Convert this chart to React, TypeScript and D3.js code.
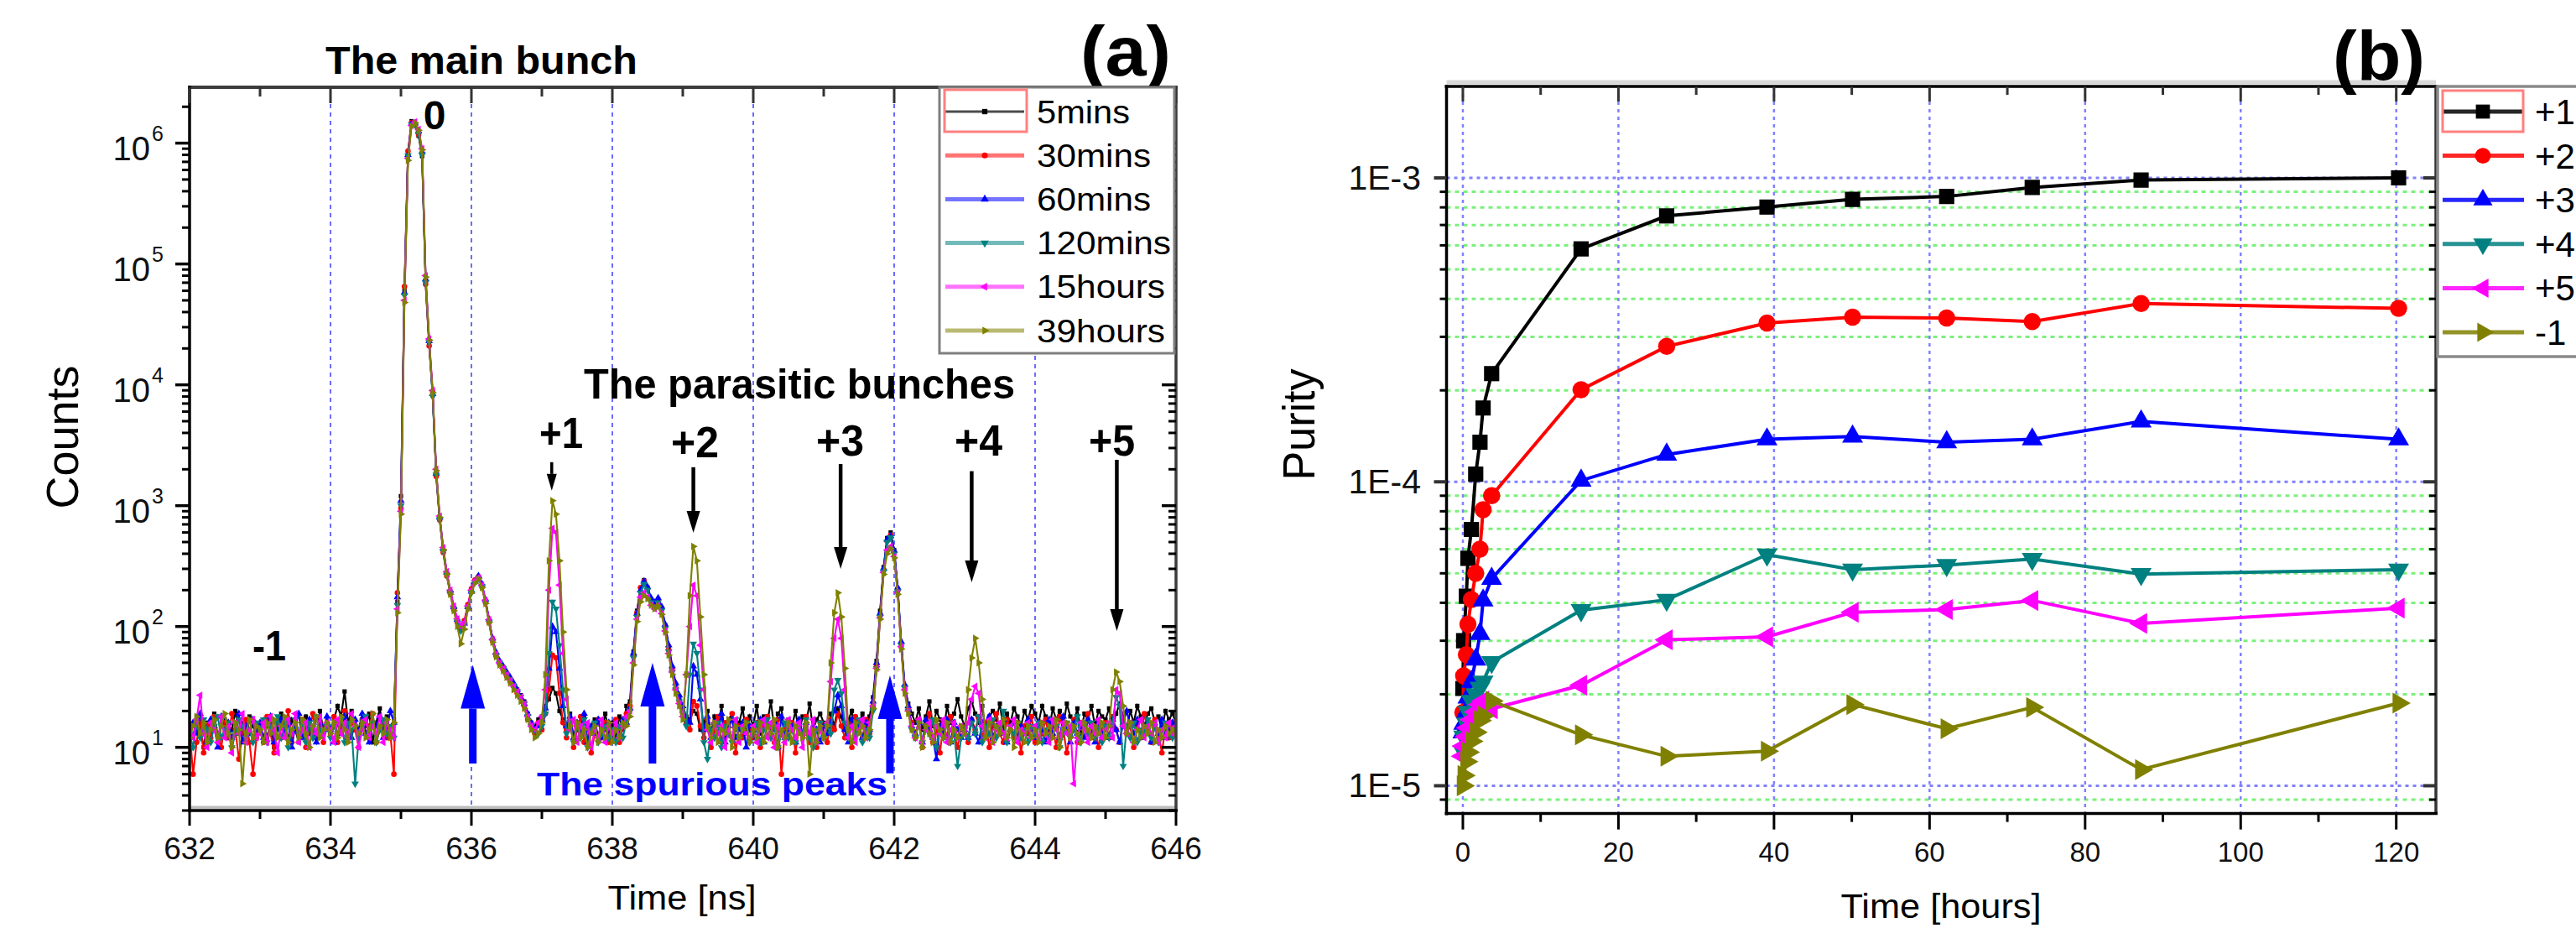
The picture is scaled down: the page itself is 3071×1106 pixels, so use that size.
import React from 'react';
import * as d3 from 'd3';

const W = 3071;
const H = 1106;
const FONT = '"Liberation Sans", Arial, Helvetica, sans-serif';

// ---------------- Panel (a): counts vs time of flight ----------------
const countsStartNs = 632;
const countsStepNs = 0.05;

const counts5mins = [
  15,12,18,14,10,16,13,19,11,15,17,12,14,20,13,16,11,18,15,13,
  14,17,12,16,10,15,19,13,12,17,14,11,16,18,13,15,12,20,14,16,
  13,17,22,18,29,16,20,14,12,17,15,19,11,16,21,14,18,13,17,160,
  1200,60000,820000,1520000,1400000,1150000,780000,72000,22000,8200,1900,780,430,275,195,142,112,97,108,148,
  198,238,252,218,162,112,78,60,51,46,41,37,33,30,27,24,19,16,15,17,
  18,22,25,31,28,20,17,14,19,12,16,13,18,11,15,17,12,14,19,13,
  16,12,18,14,22,24,62,135,205,242,210,168,152,168,142,102,68,46,33,26,
  21,18,17,20,19,14,16,20,13,18,15,22,12,17,19,14,16,21,13,18,
  15,22,13,18,16,24,14,19,21,12,17,15,20,13,18,16,23,14,17,19,
  16,13,19,15,21,18,14,17,20,12,16,19,14,18,26,52,135,310,540,600,
  430,205,72,32,23,19,16,21,14,18,24,15,20,17,13,22,16,19,25,18,
  15,21,24,19,16,22,13,18,20,17,23,14,19,16,21,18,15,20,17,22,
  19,16,22,18,14,21,17,20,15,23,18,16,21,13,19,17,22,15,20,18,
  17,21,15,19,23,18,14,20,16,22,18,15,19,21,16,18,14,20,17,19,
  16,
];
const counts30mins = [
  14,6,11,17,9,15,12,18,13,10,16,12,19,14,8,13,17,11,6,12,
  15,11,18,13,9,16,12,14,20,11,15,13,17,10,14,19,12,16,11,15,
  13,18,11,15,20,12,16,14,10,17,13,15,19,11,14,16,12,13,6,190,
  950,65000,860000,1480000,1430000,1180000,820000,68000,21000,8800,1750,760,410,262,188,138,108,93,112,152,
  205,242,258,212,158,108,76,57,49,44,39,35,32,28,26,22,17,15,13,16,
  14,19,30,58,55,28,16,12,17,10,14,18,11,15,9,13,17,12,16,11,
  13,17,11,15,19,22,58,130,210,238,205,160,148,160,138,98,64,44,31,24,
  19,16,14,24,22,15,12,17,10,14,18,11,16,13,19,9,15,12,17,14,
  12,16,10,15,18,13,11,17,6,14,12,16,9,15,13,18,11,14,10,16,
  13,11,17,14,19,15,12,16,10,18,14,12,17,13,22,48,125,295,510,570,
  410,198,68,30,21,16,12,17,10,15,19,11,14,9,16,12,18,13,10,15,
  13,11,17,14,18,12,16,10,15,19,13,11,17,14,12,16,9,15,13,18,
  11,16,13,17,12,15,10,18,14,9,13,17,11,16,14,19,12,15,10,14,
  16,12,18,14,11,17,13,15,10,16,12,19,14,11,17,13,9,15,12,16,
  14,
];
const counts60mins = [
  12,16,13,19,14,11,17,15,10,18,13,16,12,14,19,11,15,13,17,14,
  16,12,15,18,11,14,17,13,16,10,15,19,12,14,17,13,11,16,14,18,
  14,11,16,13,18,15,12,17,14,19,13,11,16,15,18,12,14,20,16,175,
  1100,58000,800000,1450000,1460000,1250000,850000,75000,23000,8400,1850,800,440,280,198,145,114,98,106,145,
  195,235,262,224,166,115,80,61,52,47,42,38,34,30,26,23,19,16,14,15,
  17,21,45,100,90,45,22,15,18,12,16,14,19,11,15,13,17,12,14,16,
  12,15,13,17,16,21,60,128,200,236,212,172,158,172,146,104,70,47,34,27,
  22,17,16,47,40,25,14,18,12,16,13,19,11,15,17,12,14,16,10,15,
  14,12,17,11,15,13,16,10,18,12,14,15,11,17,13,16,12,15,14,11,
  15,13,16,20,27,22,14,11,17,13,15,12,16,14,24,50,128,300,525,560,
  425,210,75,33,22,15,13,16,11,17,14,12,8,15,13,17,11,16,14,12,
  14,12,17,13,11,16,14,18,12,15,13,17,11,14,16,12,15,13,17,14,
  12,16,14,11,17,13,15,12,18,14,11,16,13,15,12,17,14,11,16,13,
  15,12,17,14,11,16,20,15,13,17,12,14,16,11,15,13,17,12,14,16,
  13,
];
const counts120mins = [
  13,10,16,12,17,14,11,15,18,12,14,16,10,13,17,15,12,14,11,16,
  14,17,11,15,13,18,12,16,10,14,17,13,15,11,16,12,18,14,13,15,
  12,15,13,17,11,16,14,5,12,15,18,13,16,11,14,17,13,15,12,150,
  1000,55000,790000,1420000,1420000,1200000,800000,70000,22500,8000,1800,770,420,268,190,140,110,92,104,142,
  190,232,250,215,160,110,76,58,50,45,40,36,32,29,26,23,18,15,14,13,
  15,19,60,160,140,70,30,13,16,11,15,12,17,10,14,16,11,13,15,12,
  14,11,15,12,17,20,55,120,190,225,200,158,145,158,135,96,62,42,30,24,
  19,15,40,72,60,30,11,8,14,12,16,10,15,13,11,17,12,14,16,11,
  13,16,11,14,17,12,15,10,13,16,12,14,11,15,13,17,12,10,14,16,
  12,15,13,30,36,28,16,12,15,13,17,11,14,12,20,45,120,285,500,545,
  400,195,70,31,20,14,12,16,11,15,13,17,10,14,12,16,11,13,7,12,
  14,12,16,13,18,11,15,13,17,12,14,20,11,15,13,16,12,14,11,15,
  13,16,11,14,12,17,15,10,13,16,12,14,18,11,15,13,16,12,14,11,
  15,12,16,26,22,7,15,12,16,11,14,13,17,12,15,11,14,16,13,12,
  14,
];
const counts15hours = [
  15,12,17,27,13,10,16,14,11,18,12,15,9,16,13,19,11,14,17,12,
  13,16,11,18,14,9,15,12,17,13,19,11,14,16,10,15,13,18,12,16,
  14,11,17,13,16,12,19,15,10,14,17,12,15,13,18,11,16,14,12,140,
  900,50000,750000,1400000,1500000,1300000,900000,80000,24000,9000,2000,820,450,285,200,148,116,100,108,148,
  200,240,255,220,165,114,78,59,50,45,40,36,32,29,26,23,18,15,14,16,
  18,30,200,650,600,220,60,25,14,17,11,15,13,16,10,14,12,17,11,15,
  13,16,12,15,18,20,50,115,175,190,175,150,140,150,128,92,60,42,30,23,
  18,40,100,220,180,70,30,14,11,16,13,15,10,14,12,17,11,15,13,12,
  15,11,14,17,12,16,10,15,13,11,17,14,12,16,10,15,13,17,11,14,
  13,16,35,80,115,80,30,12,15,11,14,17,12,16,22,45,118,280,430,460,
  380,190,68,30,20,15,12,17,11,14,16,12,15,13,17,11,14,16,12,15,
  13,16,25,32,28,15,12,17,11,14,16,13,12,15,17,11,14,13,16,12,
  15,12,16,13,11,17,14,12,16,13,15,5,12,16,14,11,15,13,17,12,
  14,16,12,30,28,15,13,16,11,14,17,12,15,13,16,11,14,12,16,13,
  15,
];
const counts39hours = [
  12,15,18,13,16,11,14,17,12,15,19,13,10,16,14,5,13,17,12,15,
  14,11,16,13,17,12,15,18,11,14,16,12,17,13,10,15,18,12,14,16,
  13,16,12,18,14,11,17,15,13,16,12,14,19,11,15,13,17,12,16,130,
  850,48000,720000,1380000,1470000,1280000,880000,78000,23500,8600,1950,800,430,270,185,135,100,72,95,138,
  190,228,248,210,155,108,74,56,48,43,38,34,30,27,24,21,17,14,12,13,
  16,40,350,1100,850,350,90,30,15,11,16,12,14,10,13,15,11,14,12,16,
  11,14,12,16,15,18,48,110,160,180,170,150,140,148,126,90,58,40,28,22,
  17,40,180,460,350,120,40,15,12,16,11,14,13,17,10,15,12,14,16,11,
  14,12,16,11,15,13,17,10,14,12,16,11,15,13,12,16,6,14,11,15,
  12,15,50,130,190,120,45,14,11,16,13,15,12,14,21,44,115,270,400,440,
  370,185,65,28,19,14,12,16,10,15,13,11,17,14,12,16,11,14,12,15,
  13,30,55,80,50,25,12,16,11,15,13,17,12,14,10,16,13,11,15,12,
  14,11,16,13,15,12,17,10,14,16,12,15,13,11,16,14,12,15,13,16,
  12,15,30,42,35,22,13,16,11,14,12,15,13,16,11,14,12,15,13,14,
  13,
];

const seriesNamesA = ['5mins', '30mins', '60mins', '120mins', '15hours', '39hours'];
const xTicksA = [632, 634, 636, 638, 640, 642, 644, 646];
const xMinorTicksA = [633, 635, 637, 639, 641, 643, 645];
const yExponentsA = [1, 2, 3, 4, 5, 6];

// annotations of panel (a), in data units (ns, counts)
const bunchArrows = [
  { t: 637.14, from: 2290, to: 1330, small: true },
  { t: 639.15, from: 2080, to: 597, small: false },
  { t: 641.24, from: 2210, to: 300, small: false },
  { t: 643.10, from: 1930, to: 232, small: false },
  { t: 645.16, from: 2400, to: 92, small: false },
];
const spuriousArrows = [
  { t: 636.02, from: 7.35, to: 48 },
  { t: 638.57, from: 7.35, to: 50 },
  { t: 641.94, from: 6.1, to: 39.4 },
];

// ---------------- Panel (b): purity vs time ----------------
const purityHours = [0, 0.1, 0.45, 0.65, 1.1, 1.65, 2.2, 2.6, 3.7, 15.2, 26.2, 39.1, 50.1, 62.2, 73.2, 87.2, 120.3];
const purityPlus1 = [2.09e-5, 3.0e-5, 4.2e-5, 5.6e-5, 6.97e-5, 1.06e-4, 1.35e-4, 1.75e-4, 2.27e-4, 5.84e-4, 7.5e-4, 8.02e-4, 8.5e-4, 8.69e-4, 9.3e-4, 9.84e-4, 1.0e-3];
const purityPlus2 = [1.74e-5, 2.3e-5, 2.7e-5, 3.4e-5, 4.1e-5, 5.0e-5, 6.0e-5, 8.1e-5, 9.0e-5, 2.01e-4, 2.79e-4, 3.33e-4, 3.48e-4, 3.46e-4, 3.37e-4, 3.86e-4, 3.72e-4];
const purityPlus3 = [1.5e-5, 1.6e-5, 1.75e-5, 1.95e-5, 2.2e-5, 2.6e-5, 3.16e-5, 4.07e-5, 4.8e-5, 1.01e-4, 1.23e-4, 1.38e-4, 1.41e-4, 1.35e-4, 1.38e-4, 1.58e-4, 1.38e-4];
const purityPlus4 = [1.3e-5, 1.45e-5, 1.6e-5, 1.75e-5, 1.9e-5, 2.0e-5, 2.1e-5, 2.2e-5, 2.55e-5, 3.78e-5, 4.09e-5, 5.76e-5, 5.14e-5, 5.32e-5, 5.57e-5, 4.97e-5, 5.14e-5];
const purityPlus5 = [1.25e-5, 1.35e-5, 1.45e-5, 1.55e-5, 1.65e-5, 1.75e-5, 1.85e-5, 1.9e-5, 1.79e-5, 2.14e-5, 3.02e-5, 3.09e-5, 3.72e-5, 3.8e-5, 4.07e-5, 3.42e-5, 3.84e-5];
const purityMinus1 = [1.0e-5, 1.08e-5, 1.2e-5, 1.29e-5, 1.4e-5, 1.5e-5, 1.64e-5, 1.7e-5, 1.9e-5, 1.47e-5, 1.25e-5, 1.3e-5, 1.85e-5, 1.54e-5, 1.81e-5, 1.13e-5, 1.87e-5];
const seriesNamesB = ['+1', '+2', '+3', '+4', '+5', '-1'];
const xTicksB = [0, 20, 40, 60, 80, 100, 120];
const xMinorTicksB = [10, 30, 50, 70, 90, 110];
const yMajorB = [1e-5, 1e-4, 1e-3];
const yLabelsB = ['1E-5', '1E-4', '1E-3'];

const seriesColors = ['#000000', '#ff0000', '#0000ff', '#008080', '#ff00ff', '#808000'];
const markerShapes = ['square', 'circle', 'triUp', 'triDown', 'triLeft', 'triRight'];

// ---------------- helpers ----------------
const shapeRot: Record<string, number> = { square: 0, circle: 0, triUp: 0, triDown: 180, triLeft: -90, triRight: 90 };
function symbolPath(shape: string, size: number): string {
  const type = shape === 'square' ? d3.symbolSquare : shape === 'circle' ? d3.symbolCircle : d3.symbolTriangle;
  return d3.symbol().type(type).size(size)() as string;
}

function Txt(props: any) {
  const { x, y, size, text, anchor = 'start', weight = 'normal', fill = '#000', len, rotate = 0 } = props;
  const extra: any = {};
  if (len) { extra.textLength = len; extra.lengthAdjust = 'spacingAndGlyphs'; }
  return (
    <text transform={`translate(${x},${y}) rotate(${rotate})`} fontSize={size} fontFamily={FONT}
      fontWeight={weight} textAnchor={anchor} fill={fill} {...extra}>{text}</text>
  );
}

function Arrow(props: any) {
  const { x, y1, y2, color, shaft, headL, headW } = props;
  const dir = y2 > y1 ? 1 : -1;
  const base = y2 - dir * headL;
  return (
    <g>
      <line x1={x} x2={x} y1={y1} y2={base} stroke={color} strokeWidth={shaft} />
      <path d={`M${x - headW / 2},${base} L${x + headW / 2},${base} L${x},${y2} Z`} fill={color} />
    </g>
  );
}

function PanelA() {
  const x = d3.scaleLinear().domain([632, 646]).range([226, 1402]);
  const y = d3.scaleLog().domain([3, 2.9e6]).range([966, 104]);
  const left = 226, right = 1402, top = 104, bottom = 966;
  const all = [counts5mins, counts30mins, counts60mins, counts120mins, counts15hours, counts39hours];
  const series = all.map((values, k) => ({ values, name: seriesNamesA[k], color: seriesColors[k], shape: markerShapes[k] }));
  const tOf = (i: number) => countsStartNs + i * countsStepNs;
  const line = d3.line<number>().x((_, i) => x(tOf(i))).y((v) => y(v));
  const minorY: number[] = [];
  for (let e = 0; e <= 6; e++) for (let m = 2; m <= 9; m++) {
    const v = m * Math.pow(10, e);
    if (v >= 3 && v <= 2.9e6) minorY.push(v);
  }
  const legendRow = (i: number) => 133 + i * 52.2;
  return (
    <g>
      <defs>
        <clipPath id="clipA"><rect x={left} y={top} width={right - left} height={bottom - top} /></clipPath>
      </defs>
      {xTicksA.slice(1, -1).map((t) => (
        <line key={'g' + t} x1={x(t)} x2={x(t)} y1={top} y2={bottom} stroke="#6b6bff" strokeWidth={2} strokeDasharray="5,5" />
      ))}
      <g clipPath="url(#clipA)">
        {series.map((s) => (
          <g key={s.name}>
            <path d={line(s.values) as string} fill="none" stroke={s.color} strokeWidth={2.1} />
            {s.values.map((v, i) => (
              <path key={i} d={symbolPath(s.shape, s.shape === 'square' ? 26 : 34)}
                transform={`translate(${x(tOf(i))},${y(v)}) rotate(${shapeRot[s.shape]})`} fill={s.color} />
            ))}
          </g>
        ))}
      </g>
      <line x1={left} x2={right} y1={bottom - 3.5} y2={bottom - 3.5} stroke="#bdbdbd" strokeWidth={4} />
      <line x1={left - 2} x2={right + 2} y1={top} y2={top} stroke="#3c3c3c" strokeWidth={4} />
      <line x1={right} x2={right} y1={top} y2={bottom} stroke="#3c3c3c" strokeWidth={3.5} />
      <line x1={left} x2={left} y1={top - 2} y2={bottom + 2} stroke="#000" strokeWidth={3.5} />
      <line x1={left - 2} x2={right + 2} y1={bottom} y2={bottom} stroke="#000" strokeWidth={3.5} />
      {xTicksA.map((t) => (
        <g key={'xt' + t}>
          <line x1={x(t)} x2={x(t)} y1={bottom} y2={bottom + 18} stroke="#000" strokeWidth={3} />
          <line x1={x(t)} x2={x(t)} y1={top} y2={top + 19} stroke="#333" strokeWidth={3} />
          <Txt x={x(t)} y={1024} size={37} text={String(t)} anchor="middle" fill="#111" />
        </g>
      ))}
      {xMinorTicksA.map((t) => (
        <g key={'xm' + t}>
          <line x1={x(t)} x2={x(t)} y1={bottom} y2={bottom + 10} stroke="#000" strokeWidth={3} />
          <line x1={x(t)} x2={x(t)} y1={top} y2={top + 11} stroke="#333" strokeWidth={3} />
        </g>
      ))}
      {yExponentsA.map((e) => {
        const yy = y(Math.pow(10, e));
        return (
          <g key={'yt' + e}>
            <line x1={left - 17} x2={left} y1={yy} y2={yy} stroke="#000" strokeWidth={3.5} />
            <line x1={right - 17} x2={right} y1={yy} y2={yy} stroke="#000" strokeWidth={3.5} />
            <Txt x={179} y={yy + 20} size={40} text="10" anchor="end" fill="#111" />
            <Txt x={181} y={yy - 3} size={25} text={String(e)} fill="#111" />
          </g>
        );
      })}
      {minorY.map((v) => (
        <g key={'ym' + v}>
          <line x1={left - 9} x2={left} y1={y(v)} y2={y(v)} stroke="#000" strokeWidth={3} />
          <line x1={right - 9} x2={right} y1={y(v)} y2={y(v)} stroke="#000" strokeWidth={3} />
        </g>
      ))}
      <Txt x={813} y={1084} size={41} text="Time [ns]" anchor="middle" len={177} />
      <Txt x={93} y={521} size={54} text="Counts" anchor="middle" rotate={-90} len={171} />
      <Txt x={388} y={88} size={47} text="The main bunch" weight="bold" len={372} />
      <Txt x={518} y={154} size={48} text="0" weight="bold" anchor="middle" />
      <Txt x={301} y={787} size={50} text="-1" weight="bold" len={40} />
      <Txt x={696} y={475} size={50} text="The parasitic bunches" weight="bold" len={514} />
      <Txt x={643} y={534} size={52} text="+1" weight="bold" len={52} />
      <Txt x={800} y={545} size={52} text="+2" weight="bold" len={57} />
      <Txt x={973} y={543} size={52} text="+3" weight="bold" len={57} />
      <Txt x={1138} y={543} size={52} text="+4" weight="bold" len={57} />
      <Txt x={1298} y={543} size={52} text="+5" weight="bold" len={55} />
      <Txt x={640} y={948} size={39} text="The spurious peaks" weight="bold" fill="#0000ff" len={418} />
      <Txt x={1288} y={90} size={83} text="(a)" weight="bold" len={108} />
      {bunchArrows.map((a, i) => (
        <Arrow key={'ba' + i} x={x(a.t)} y1={y(a.from)} y2={y(a.to)} color="#000"
          shaft={a.small ? 3.5 : 4.5} headL={a.small ? 20 : 26} headW={a.small ? 12 : 16} />
      ))}
      {spuriousArrows.map((a, i) => (
        <Arrow key={'sa' + i} x={x(a.t)} y1={y(a.from)} y2={y(a.to)} color="#0000ff" shaft={9} headL={52} headW={29} />
      ))}
      <rect x={1120} y={104} width={280} height={317} fill="#fff" stroke="#7f7f7f" strokeWidth={3} />
      {series.map((s, i) => (
        <g key={'lg' + s.name}>
          <line x1={1127} x2={1221} y1={legendRow(i)} y2={legendRow(i)} stroke={s.color} strokeOpacity={i === 0 ? 0.7 : 0.55} strokeWidth={i === 0 ? 3 : 5} />
          <path d={symbolPath(s.shape, 40)} transform={`translate(1174,${legendRow(i)}) rotate(${shapeRot[s.shape]})`} fill={s.color} />
          <Txt x={1236} y={legendRow(i) + 13.5} size={38} text={s.name} len={[111, 136, 136, 160, 153, 153][i]} />
        </g>
      ))}
      <rect x={1126} y={107} width={98} height={50} fill="none" stroke="#ff8080" strokeWidth={3} />
    </g>
  );
}

function PanelB() {
  const x = d3.scaleLinear().domain([-2.1, 125.1]).range([1724.5, 2904]);
  const y = d3.scaleLog().domain([8.1e-6, 2e-3]).range([969.6, 103]);
  const left = 1724.5, right = 2904, top = 103, bottom = 969.6;
  const all = [purityPlus1, purityPlus2, purityPlus3, purityPlus4, purityPlus5, purityMinus1];
  const series = all.map((values, k) => ({ values, name: seriesNamesB[k], color: seriesColors[k], shape: markerShapes[k] }));
  const line = d3.line<number>().x((_, i) => x(purityHours[i])).y((v) => y(v));
  const minorY: number[] = [];
  for (let e = -6; e <= -3; e++) for (let m = 2; m <= 9; m++) {
    const v = m * Math.pow(10, e);
    if (v >= 8.1e-6 && v < 1.9e-3) minorY.push(v);
  }
  const legendRow = (i: number) => 133 + i * 52.6;
  const markerSize = (shape: string) => (shape === 'square' ? 330 : shape === 'circle' ? 330 : 270);
  return (
    <g>
      <defs>
        <clipPath id="clipB"><rect x={left} y={top} width={right - left} height={bottom - top} /></clipPath>
      </defs>
      {minorY.map((v) => (
        <line key={'gm' + v} x1={left} x2={right} y1={y(v)} y2={y(v)} stroke="#7cf07c" strokeWidth={3} strokeDasharray="5,5" />
      ))}
      {yMajorB.map((v) => (
        <line key={'gM' + v} x1={left} x2={right} y1={y(v)} y2={y(v)} stroke="#8080ff" strokeWidth={3} strokeDasharray="4,5" />
      ))}
      {xTicksB.map((t) => (
        <line key={'gx' + t} x1={x(t)} x2={x(t)} y1={top} y2={bottom} stroke="#8080ff" strokeWidth={2.5} strokeDasharray="4,5" />
      ))}
      <g clipPath="url(#clipB)">
        {series.map((s) => (
          <g key={s.name}>
            <path d={line(s.values) as string} fill="none" stroke={s.color} strokeWidth={4} />
            {s.values.map((v, i) => (
              <path key={i} d={symbolPath(s.shape, markerSize(s.shape))}
                transform={`translate(${x(purityHours[i])},${y(v)}) rotate(${shapeRot[s.shape]})`} fill={s.color} />
            ))}
          </g>
        ))}
      </g>
      <line x1={left} x2={right} y1={top - 5} y2={top - 5} stroke="#d8d8d8" strokeWidth={5} />
      <line x1={left - 2} x2={right + 2} y1={top} y2={top} stroke="#000" strokeWidth={3.5} />
      <line x1={right} x2={right} y1={top} y2={bottom} stroke="#333" strokeWidth={3.5} />
      <line x1={left} x2={left} y1={top - 2} y2={bottom + 2} stroke="#000" strokeWidth={3.5} />
      <line x1={left - 2} x2={right + 2} y1={bottom} y2={bottom} stroke="#000" strokeWidth={3.5} />
      {xTicksB.map((t) => (
        <g key={'xt' + t}>
          <line x1={x(t)} x2={x(t)} y1={bottom} y2={bottom + 19} stroke="#000" strokeWidth={3} />
          <line x1={x(t)} x2={x(t)} y1={top} y2={top + 18} stroke="#333" strokeWidth={3} />
          <Txt x={x(t)} y={1027} size={33} text={String(t)} anchor="middle" fill="#111" />
        </g>
      ))}
      {xMinorTicksB.map((t) => (
        <g key={'xm' + t}>
          <line x1={x(t)} x2={x(t)} y1={bottom} y2={bottom + 10} stroke="#000" strokeWidth={3} />
          <line x1={x(t)} x2={x(t)} y1={top} y2={top + 10} stroke="#333" strokeWidth={3} />
        </g>
      ))}
      {yMajorB.map((v, i) => (
        <g key={'yt' + v}>
          <line x1={left - 15} x2={left} y1={y(v)} y2={y(v)} stroke="#333" strokeWidth={4} />
          <line x1={right - 15} x2={right} y1={y(v)} y2={y(v)} stroke="#333" strokeWidth={4} />
          <Txt x={1694} y={y(v) + 14} size={41} text={yLabelsB[i]} anchor="end" fill="#111" />
        </g>
      ))}
      {minorY.map((v) => (
        <g key={'ym' + v}>
          <line x1={left - 8} x2={left} y1={y(v)} y2={y(v)} stroke="#000" strokeWidth={3} />
          <line x1={right - 8} x2={right} y1={y(v)} y2={y(v)} stroke="#000" strokeWidth={3} />
        </g>
      ))}
      <Txt x={2314} y={1094} size={40} text="Time [hours]" anchor="middle" len={239} />
      <Txt x={1567} y={506} size={53} text="Purity" anchor="middle" rotate={-90} len={133} />
      <Txt x={2781} y={96} size={84} text="(b)" weight="bold" len={110} />
      <rect x={2906} y={103} width={175} height={322} fill="#fff" stroke="#8a8a8a" strokeWidth={3.5} />
      {series.map((s, i) => (
        <g key={'lg' + s.name}>
          <line x1={2912} x2={3009} y1={legendRow(i)} y2={legendRow(i)} stroke={s.color} strokeOpacity={0.85} strokeWidth={5} />
          <path d={symbolPath(s.shape, markerSize(s.shape) * 0.85)} transform={`translate(2960,${legendRow(i)}) rotate(${shapeRot[s.shape]})`} fill={s.color} />
          <Txt x={3022} y={legendRow(i) + 15} size={42} text={s.name} />
        </g>
      ))}
      <rect x={2912} y={108} width={96} height={49} fill="none" stroke="#ff8080" strokeWidth={3} />
    </g>
  );
}

export default function App() {
  return (
    <div style={{ position: 'absolute', left: 0, top: 0, width: W, height: H, background: '#fff' }}>
      <svg width={W} height={H} viewBox={`0 0 ${W} ${H}`} style={{ display: 'block' }}>
        <rect x={0} y={0} width={W} height={H} fill="#fff" />
        <PanelA />
        <PanelB />
      </svg>
    </div>
  );
}
